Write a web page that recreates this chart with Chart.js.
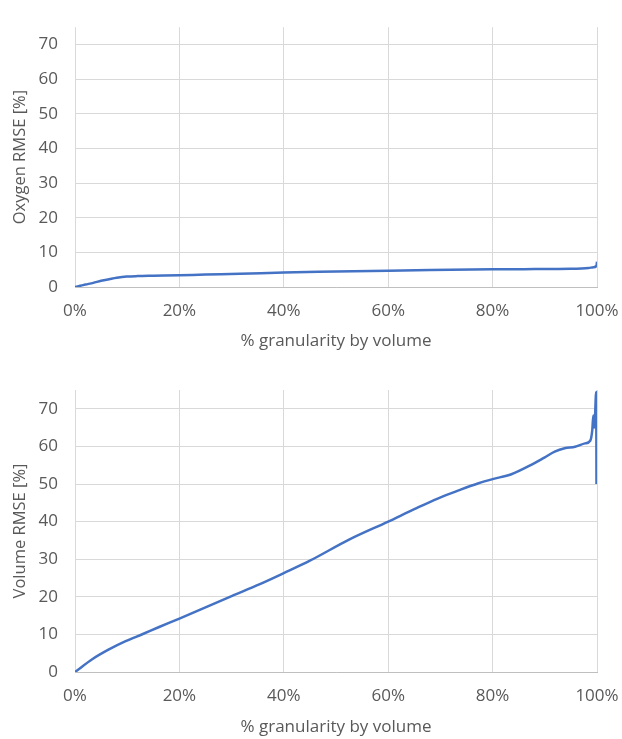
<!DOCTYPE html>
<html>
<head>
<meta charset="utf-8">
<script src="https://cdn.jsdelivr.net/npm/chart.js@4.4.1/dist/chart.umd.min.js"></script>
<style>
  body { margin: 0; background: #fff; }
  canvas { display: block; }
</style>
</head>
<body>
<canvas id="oxygenChart" width="622" height="360"></canvas>
<canvas id="volumeChart" width="622" height="379"></canvas>
<script>
// values (x = % granularity by volume)
const oxygenX = [0, 1, 2, 3.5, 5, 6.7, 8, 9.9, 12, 15, 20, 25, 31.6, 40, 50, 60, 68, 80, 86, 91.7, 95, 97, 98.4, 99.3, 99.9, 100];
const oxygenY = [0, 0.35, 0.7, 1.2, 1.8, 2.3, 2.65, 3.0, 3.15, 3.25, 3.4, 3.6, 3.8, 4.2, 4.45, 4.7, 4.9, 5.1, 5.15, 5.2, 5.25, 5.35, 5.5, 5.7, 6.1, 7.3];

const volumeX = [0, 3.3, 6.5, 9.7, 13, 16, 20, 25, 30, 35.3, 40, 45, 52.5, 60, 65, 69.6, 73.5, 77.3, 80, 83.6, 87.4, 90, 91.9, 93.8, 95.8, 97.7, 98.7, 99.1, 99.3, 99.5, 99.85, 99.9];
const volumeY = [0, 3.4, 6.0, 8.2, 10.1, 11.9, 14.2, 17.2, 20.2, 23.3, 26.3, 29.6, 35.2, 40.0, 43.3, 46.2, 48.3, 50.2, 51.3, 52.6, 55.1, 57.1, 58.6, 59.5, 59.9, 60.8, 61.5, 64.4, 68.2, 65, 74.5, 50];

const xTicks = [0, 20, 40, 60, 80, 100];
const yTicks = [0, 10, 20, 30, 40, 50, 60, 70];

const textColor = '#595959';
const gridColor = '#d9d9d9';
const lineColor = '#4472C4';

function makeChart(id, xs, ys, yTitle, padTop, xAxisHeight, titlePadBottom) {
    const ctx = document.getElementById(id).getContext('2d');
    return new Chart(ctx, {
        type: 'line',
        data: {
            datasets: [{
                data: xs.map((x, i) => ({ x: x, y: ys[i] })),
                borderColor: lineColor,
                borderWidth: 2.5,
                pointRadius: 0,
                cubicInterpolationMode: 'monotone',
                fill: false
            }]
        },
        options: {
            responsive: false,
            animation: false,
            layout: { padding: { top: padTop, right: 25, left: 0, bottom: 0 } },
            plugins: { legend: { display: false }, tooltip: { enabled: false } },
            scales: {
                x: {
                    type: 'linear',
                    min: 0,
                    max: 100,
                    afterBuildTicks: s => { s.ticks = xTicks.map(v => ({ value: v })); },
                    afterFit: s => { s.height = xAxisHeight; s.paddingLeft = 0; s.paddingRight = 0; },
                    ticks: {
                        color: textColor,
                        font: { family: 'Open Sans', size: 17 },
                        padding: 14,
                        maxRotation: 0,
                        callback: v => v + '%'
                    },
                    grid: { color: gridColor, drawTicks: false },
                    border: { display: true, color: '#bfbfbf' },
                    title: {
                        display: true,
                        text: '% granularity by volume',
                        color: textColor,
                        font: { family: 'Open Sans', size: 17 },
                        padding: { top: 0, bottom: titlePadBottom }
                    }
                },
                y: {
                    min: 0,
                    max: 75,
                    afterBuildTicks: s => { s.ticks = yTicks.map(v => ({ value: v })); },
                    afterFit: s => { s.width = 75; },
                    ticks: {
                        color: textColor,
                        font: { family: 'Open Sans', size: 17 },
                        padding: 17
                    },
                    grid: { color: gridColor, drawTicks: false },
                    border: { display: false },
                    title: {
                        display: true,
                        text: yTitle,
                        color: textColor,
                        font: { family: 'Open Sans', size: 16.5 },
                        padding: { top: 10, bottom: 0 }
                    }
                }
            }
        }
    });
}

makeChart('oxygenChart', oxygenX, oxygenY, 'Oxygen RMSE [%]', 9, 73, 9);
makeChart('volumeChart', volumeX, volumeY, 'Volume RMSE [%]', 30, 67, 2);
</script>
</body>
</html>
